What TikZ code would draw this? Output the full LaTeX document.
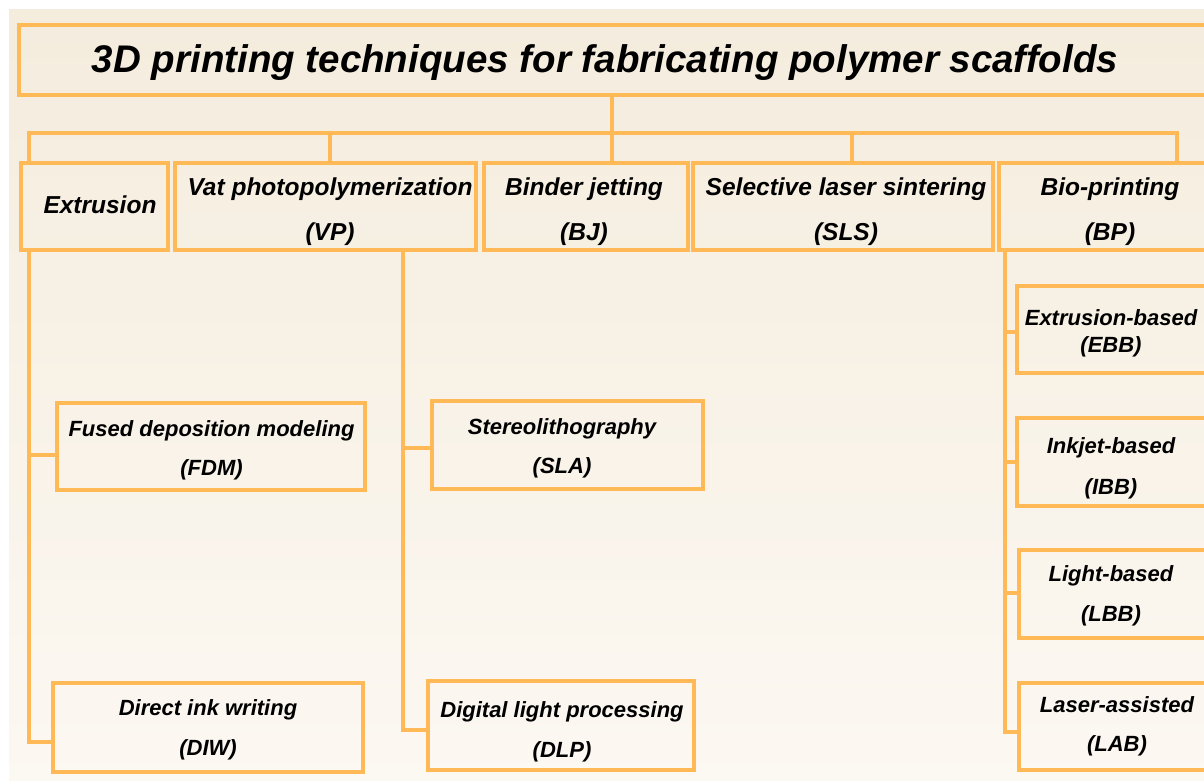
\documentclass[tikz,border=0pt]{standalone}
\usepackage{fontspec}
\setmainfont{Liberation Sans}
\definecolor{orng}{HTML}{FFB957}
\definecolor{bgtop}{HTML}{F4ECDD}
\definecolor{bgbot}{HTML}{FCF8F2}
\begin{document}
\begin{tikzpicture}[x=1pt,y=-1pt,
  box/.style={draw=orng,line width=4pt,rectangle,inner sep=0pt},
  topbox/.style={box,minimum height=87pt},
  toptxt/.style={inner sep=0pt,align=center,font=\fontsize{24.5}{45}\selectfont\bfseries\itshape},
  subtxt/.style={inner sep=0pt,align=center,font=\fontsize{22}{39.5}\selectfont\bfseries\itshape},
  conn/.style={draw=orng,line width=4pt,line join=miter}]
\useasboundingbox (0,0) rectangle (1204,780);
\fill[white] (0,0) rectangle (1204,780);
\shade[top color=bgtop,bottom color=bgbot] (9,9) rectangle (1204,780);

% title
\node[box,minimum width=1191pt,minimum height=70pt] (title) at (614.5,60) {};
\node[font=\fontsize{38.5}{42}\selectfont\bfseries\itshape,inner sep=0pt] (titletext) at (605,63) {3D printing techniques for fabricating polymer scaffolds};

% top row boxes
\node[topbox,minimum width=147pt] (ext) at (94.5,206.5) {};
\node[topbox,minimum width=301pt] (vp) at (325.5,206.5) {};
\node[topbox,minimum width=204pt] (bj) at (586,206.5) {};
\node[topbox,minimum width=300pt] (sls) at (843,206.5) {};
\node[topbox,minimum width=211pt] (bp) at (1104.5,206.5) {};
% top row texts
\node[toptxt] (extt) at (100,205) {Extrusion};
\node[toptxt] (vpt) at (330,211.5) {Vat photopolymerization\\(VP)};
\node[toptxt] (bjt) at (584,211.5) {Binder jetting\\(BJ)};
\node[toptxt] (slst) at (846,211.5) {Selective laser sintering\\(SLS)};
\node[toptxt] (bpt) at (1110,211.5) {Bio-printing\\(BP)};

% child boxes
\node[box,minimum width=308pt,minimum height=87pt] (fdm) at (211,446.5) {};
\node[box,minimum width=310pt,minimum height=89pt] (diw) at (208,727.5) {};
\node[box,minimum width=271pt,minimum height=88pt] (sla) at (567.5,445) {};
\node[box,minimum width=266pt,minimum height=89pt] (dlp) at (561,725.5) {};
\node[box,minimum width=193pt,minimum height=87pt] (ebb) at (1113.5,329.5) {};
\node[box,minimum width=193pt,minimum height=88pt] (ibb) at (1113.5,462) {};
\node[box,minimum width=191pt,minimum height=88pt] (lbb) at (1114.5,594) {};
\node[box,minimum width=191pt,minimum height=87pt] (lab) at (1114.5,726.5) {};
% child texts
\node[subtxt] (fdmt) at (211.5,450.5) {Fused deposition modeling\\(FDM)};
\node[subtxt] (diwt) at (208,730) {Direct ink writing\\(DIW)};
\node[subtxt] (slat) at (562,448.5) {Stereolithography\\(SLA)};
\node[subtxt] (dlpt) at (562,732) {Digital light processing\\(DLP)};
\node[subtxt,font=\fontsize{22}{27}\selectfont\bfseries\itshape] (ebbt) at (1111,333) {Extrusion-based\\(EBB)};
\node[subtxt,font=\fontsize{22}{41}\selectfont\bfseries\itshape] (ibbt) at (1111,468) {Inkjet-based\\(IBB)};
\node[subtxt] (lbbt) at (1111,596) {Light-based\\(LBB)};
\node[subtxt] (labt) at (1117,726.5) {Laser-assisted\\(LAB)};

% connector coordinates
\coordinate (jt) at (612,133);
\coordinate (barL) at (29,133);
\coordinate (barR) at (1177,133);
\coordinate (jvp) at (330,133);
\coordinate (jsls) at (852,133);
\coordinate (e1) at (29,455);
\coordinate (e2) at (29,742);
\coordinate (v1) at (403,448);
\coordinate (v2) at (403,730);
\coordinate (b1) at (1005,332);
\coordinate (b2) at (1005,462);
\coordinate (b3) at (1005,593);
\coordinate (b4) at (1005,732);

% connectors
\draw[conn] (title.south -| jt) -- (bj.north -| jt);
\draw[conn] (ext.north -| barL) -- (barL) -- (barR) -- (bp.north -| barR);
\draw[conn] (jvp) -- (vp.north -| jvp);
\draw[conn] (jsls) -- (sls.north -| jsls);

\draw[conn] (ext.south -| e1) -- (e2) -- (diw.west |- e2);
\draw[conn] (e1) -- (fdm.west |- e1);

\draw[conn] (vp.south -| v1) -- (v2) -- (dlp.west |- v2);
\draw[conn] (v1) -- (sla.west |- v1);

\draw[conn] (bp.south -| b1) -- (b4) -- (lab.west |- b4);
\draw[conn] (b1) -- (ebb.west |- b1);
\draw[conn] (b2) -- (ibb.west |- b2);
\draw[conn] (b3) -- (lbb.west |- b3);
\end{tikzpicture}
\end{document}
